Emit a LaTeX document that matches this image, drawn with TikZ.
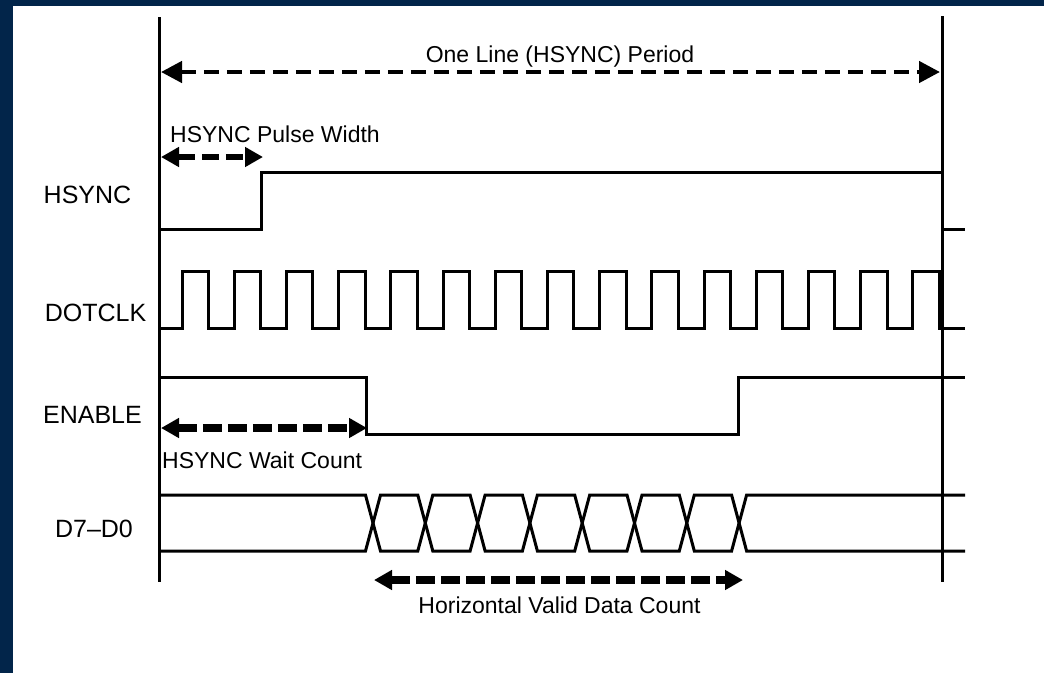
\documentclass[tikz,border=0pt]{standalone}
\usepackage{fontspec}
\setmainfont{Liberation Sans}
\usetikzlibrary{arrows.meta}
\definecolor{navy}{RGB}{2,37,74}
\begin{document}
\begin{tikzpicture}[x=1pt,y=-1pt,
  sig/.style={line width=3pt, line join=miter},
  axisline/.style={line width=3pt},
  lbl/.style={font=\fontsize{25}{30}\selectfont, inner sep=0pt, anchor=base},
  txt/.style={font=\fontsize{23}{28}\selectfont, inner sep=0pt, anchor=base},
  toparrow/.style={line width=4.5pt, dash pattern=on 15pt off 8pt,
    {Triangle[length=21pt,width=21pt]}-{Triangle[length=21pt,width=21pt]}},
  thickarrow/.style={line width=7.5pt, dash pattern=on 19pt off 6pt,
    {Triangle[length=18pt,width=19pt]}-{Triangle[length=18pt,width=19pt]}}
]
\useasboundingbox (0,0) rectangle (1044,673);
\fill[navy] (0,0) rectangle (1044,673);
\fill[white] (13,6) rectangle (1044,673);

% reference verticals
\draw[axisline] (159,17) -- (159,582);
\draw[axisline] (942,16) -- (942,582);

% signal labels
\node[lbl] (lhsync) at (87.5,203) {HSYNC};
\node[lbl] (ldot) at (95.5,321) {DOTCLK};
\node[lbl] (len) at (92.5,423) {ENABLE};
\node[lbl] (ldata) at (94,537) {D7–D0};

% HSYNC
\draw[sig] (159,229) -- (261,229) -- (261,172) -- (942,172) -- (942,229) -- (965,229);

% DOTCLK
\draw[sig] (159,328) foreach \k in {0,...,14} {
  -- ({182+52.2*\k},328) -- ({182+52.2*\k},271) -- ({208.5+52.2*\k},271) -- ({208.5+52.2*\k},328) }
  -- (965,328);

% ENABLE
\draw[sig] (159,377) -- (366,377) -- (366,434) -- (738,434) -- (738,377) -- (965,377);

% D7-D0
\draw[sig] (159,495) -- (365.5,495) -- (373,523) -- (365.5,551) -- (159,551);
\foreach \j in {0,...,6} {
  \draw[sig] ({373+52.3*\j},523) -- ({380.5+52.3*\j},495) -- ({417.8+52.3*\j},495)
    -- ({425.3+52.3*\j},523) -- ({417.8+52.3*\j},551) -- ({380.5+52.3*\j},551) -- cycle;
}
\draw[sig] (965,495) -- (746.6,495) -- (739.1,523) -- (746.6,551) -- (965,551);

% dimension arrows
\coordinate (pa) at (161,72);
\coordinate (pb) at (940,72);
\draw[toparrow] (pa) -- (pb);
\node[txt] (tperiod) at (560,62) {One Line (HSYNC) Period};

\coordinate (wa) at (161,157);
\coordinate (wb) at (263,157);
\draw[thickarrow, line width=6pt, dash pattern=on 17pt off 7pt] (wa) -- (wb);
\node[txt, anchor=base west] (twidth) at (170,142) {HSYNC Pulse Width};

\coordinate (ca) at (161,428);
\coordinate (cb) at (367,428);
\draw[thickarrow] (ca) -- (cb);
\node[txt, anchor=base west] (twait) at (162,468) {HSYNC Wait Count};

\coordinate (da) at (374,580);
\coordinate (db) at (743,580);
\draw[thickarrow] (da) -- (db);
\node[txt] (tvalid) at (559.5,613) {Horizontal Valid Data Count};
\end{tikzpicture}
\end{document}
